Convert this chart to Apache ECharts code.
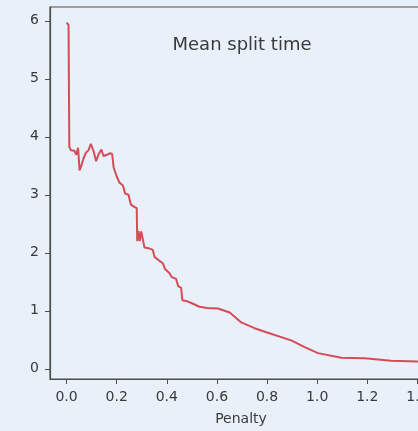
<!DOCTYPE html>
<html>
<head>
<meta charset="utf-8">
<script src="https://cdn.jsdelivr.net/npm/echarts@6/dist/echarts.min.js"></script>
<style>html,body{margin:0;padding:0;background:#e8f0fa;overflow:hidden;width:418px;height:431px;}#c{width:450px;height:431px;}</style>
</head>
<body>
<div id="c"></div>
<script>
const penalty = [0.000,0.008,0.011,0.017,0.031,0.039,0.046,0.052,0.061,0.068,0.078,0.088,0.097,0.108,0.118,0.128,0.139,0.147,0.161,0.174,0.182,0.188,0.200,0.211,0.225,0.234,0.247,0.257,0.267,0.280,0.282,0.287,0.292,0.298,0.302,0.311,0.327,0.344,0.351,0.371,0.384,0.393,0.410,0.420,0.437,0.446,0.457,0.462,0.477,0.500,0.530,0.560,0.604,0.651,0.697,0.750,0.797,0.896,0.950,1.003,1.096,1.189,1.295,1.401,1.450];
const meanSplitTime = [5.97,5.93,3.83,3.77,3.76,3.69,3.81,3.42,3.53,3.63,3.73,3.77,3.88,3.75,3.58,3.70,3.78,3.67,3.69,3.72,3.70,3.47,3.32,3.21,3.16,3.02,3.00,2.83,2.80,2.77,2.20,2.38,2.20,2.37,2.36,2.09,2.08,2.05,1.93,1.86,1.82,1.72,1.65,1.58,1.55,1.42,1.40,1.18,1.17,1.13,1.07,1.05,1.04,0.97,0.80,0.70,0.63,0.49,0.375,0.27,0.19,0.18,0.14,0.125,0.12];
const xTicks = [0,0.2,0.4,0.6,0.8,1.0,1.2,1.4];
const yTicks = [0,1,2,3,4,5,6];
const titleText = 'Mean split time';
const xName = 'Penalty';

const chart = echarts.init(document.getElementById('c'), null, {renderer:'canvas'});
const font = 'DejaVu Sans';
const txt = '#3a3a3a';
const axisCol = '#4d4d4d';
chart.setOption({
  backgroundColor: '#e8f0fa',
  animation: false,
  grid: {left: 50, top: 7, bottom: 48, width: 382, show: true, borderColor: axisCol, borderWidth: 1.2, backgroundColor: '#e8f0fa', containLabel: false},
  graphic: [{type:'text', x: 242, y: 45, style:{text: titleText, fontFamily: font, fontSize: 18, fill: txt, textAlign:'center', textVerticalAlign:'middle'}}],
  xAxis: {
    type: 'value', min: -0.066, max: 1.458,
    name: xName, nameLocation: 'middle', nameGap: 33,
    nameTextStyle: {fontFamily: font, fontSize: 14, color: txt},
    axisLine: {show: true, onZero: false, lineStyle: {color: axisCol, width: 1.2}},
    axisTick: {show: true, length: 5, customValues: xTicks, lineStyle:{color: axisCol}},
    axisLabel: {customValues: xTicks, margin: 11, fontFamily: font, fontSize: 14, color: txt, formatter: v => v.toFixed(1)},
    splitLine: {show: false}
  },
  yAxis: {
    type: 'value', min: -0.176, max: 6.238,
    axisLine: {show: true, onZero: false, lineStyle: {color: axisCol, width: 1.2}},
    axisTick: {show: true, length: 5, customValues: yTicks, lineStyle:{color: axisCol}},
    axisLabel: {customValues: yTicks, margin: 11, fontFamily: font, fontSize: 14, color: txt, formatter: v => String(v)},
    splitLine: {show: false}
  },
  series: [{
    type: 'line', data: penalty.map((p,i)=>[p, meanSplitTime[i]]),
    showSymbol: false, symbol: 'none',
    lineStyle: {color: '#d33a44', width: 2, opacity: 0.9},
    clip: true
  }]
});
</script>
</body>
</html>
